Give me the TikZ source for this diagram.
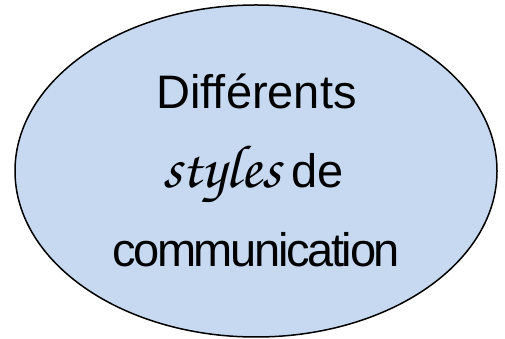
\documentclass[tikz,border=0pt]{standalone}
\usepackage[T1]{fontenc}
\usepackage{fontspec}
\setmainfont{Liberation Sans}
\newfontfamily\condsans[LetterSpace=-5]{Liberation Sans}
\usepackage{xcolor}
\usetikzlibrary{positioning,shapes.geometric}
\definecolor{bubbleblue}{RGB}{198,217,241}
\newcommand{\scriptword}[1]{{\fontencoding{T1}\fontfamily{pzc}\fontseries{mb}\fontshape{it}\selectfont #1}}

\begin{document}
\begin{tikzpicture}[x=1pt,y=1pt,
    bubble/.style={ellipse, draw=black, line width=1.5pt, fill=bubbleblue,
        minimum width=482pt, minimum height=332pt, inner sep=0pt},
    labeltext/.style={inner sep=0pt, font=\fontsize{47}{56}\selectfont}]
    \useasboundingbox (0,0) rectangle (505,339);

    % Ellipse
    \node[bubble] (bubble) at (256,168) {};

    % Text lines
    \node[labeltext, anchor=base] (first) at (256.5,230) {Différents};
    \node[labeltext, anchor=base east, font=\fontsize{61}{68}\selectfont] (styleword) at (281,151) {\scriptword{styles}};
    \node[labeltext, anchor=base west] (de) at (291.5,151) {de};
    \node[labeltext, anchor=base] (last) at (256,72) {\condsans communication};
\end{tikzpicture}
\end{document}
